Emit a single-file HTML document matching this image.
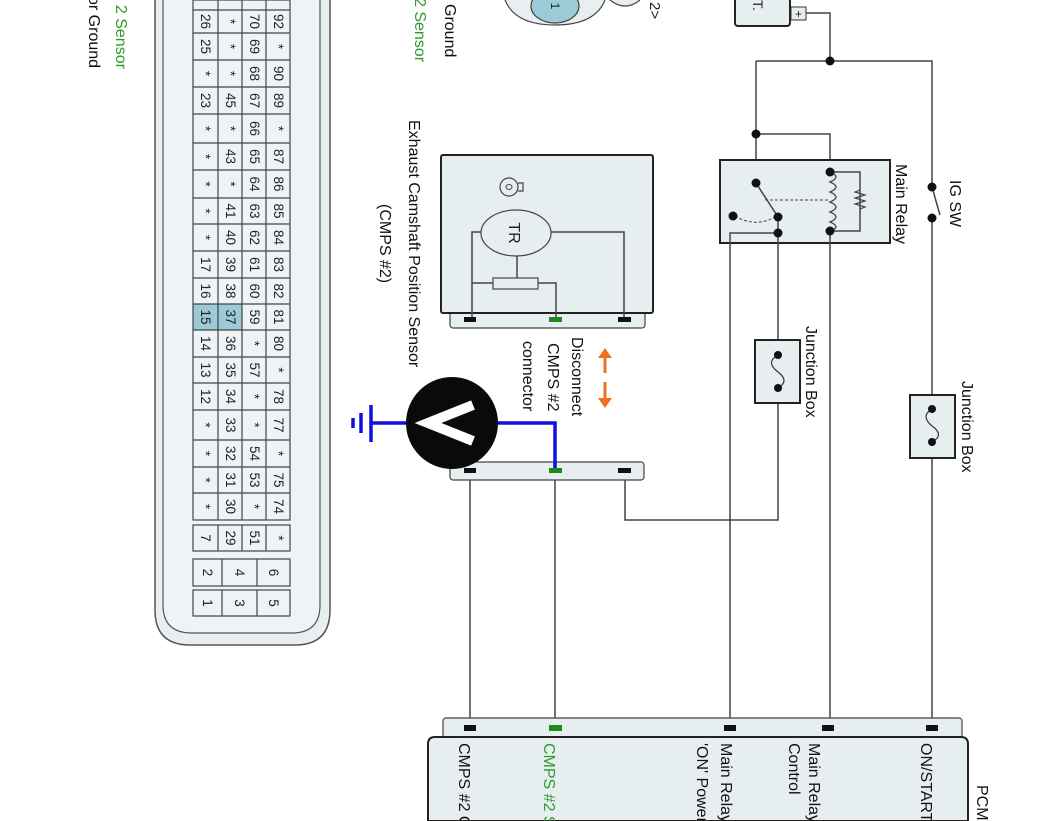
<!DOCTYPE html>
<html><head><meta charset="utf-8"><style>
html,body{margin:0;padding:0;background:#fff;width:1062px;height:821px;overflow:hidden;}
svg{display:block;font-family:"Liberation Sans",sans-serif;overflow:hidden;}
</style></head><body>
<svg width="1062" height="821" viewBox="0 0 1062 821" xmlns="http://www.w3.org/2000/svg">
<defs>
<style>
.w{stroke:#444;stroke-width:1.5;fill:none}
.box{fill:#e6eef0;stroke:#222;stroke-width:2}
.t{font-size:16px;fill:#111}
.g{font-size:16px;fill:#2a9a2a}
</style>
</defs>

<text class="g" transform="translate(116,-4) rotate(90)">. 2 Sensor</text>
<text class="t" transform="translate(89,-4) rotate(90)">or Ground</text>

<path d="M155,0 V610 Q155,645 190,645 H295 Q330,645 330,610 V0" fill="#e8eff1" stroke="#555" stroke-width="1.5"/>
<path d="M163,0 V605 Q163,633 192,633 H292 Q320,633 320,605 V0" fill="#eef3f5" stroke="#555" stroke-width="1.2"/>
<rect x="193" y="304" width="49" height="26" fill="#9ccad6"/>
<g stroke="#444" stroke-width="1.2" fill="none">
<rect x="193" y="0" width="97" height="520"/>
<line x1="218" y1="0" x2="218" y2="520"/><line x1="242" y1="0" x2="242" y2="520"/><line x1="266" y1="0" x2="266" y2="520"/>
<path d="M193,10H290M193,33H290M193,60H290M193,87H290M193,114H290M193,143H290M193,170H290M193,198H290M193,224H290M193,251H290M193,278H290M193,304H290M193,330H290M193,357H290M193,383H290M193,410H290M193,440H290M193,467H290M193,493H290"/>
<rect x="193" y="525" width="97" height="26"/>
<line x1="218" y1="525" x2="218" y2="551"/><line x1="242" y1="525" x2="242" y2="551"/><line x1="266" y1="525" x2="266" y2="551"/>
<rect x="193" y="559" width="97" height="27"/><line x1="222" y1="559" x2="222" y2="586"/><line x1="257" y1="559" x2="257" y2="586"/>
<rect x="193" y="590" width="97" height="26"/><line x1="222" y1="590" x2="222" y2="616"/><line x1="257" y1="590" x2="257" y2="616"/>
</g>
<g font-size="13.5" fill="#222" text-anchor="middle">
<text transform="translate(201,21.5) rotate(90)">26</text><text transform="translate(226,21.5) rotate(90)">*</text><text transform="translate(250,21.5) rotate(90)">70</text><text transform="translate(274,21.5) rotate(90)">92</text>
<text transform="translate(201,46.5) rotate(90)">25</text><text transform="translate(226,46.5) rotate(90)">*</text><text transform="translate(250,46.5) rotate(90)">69</text><text transform="translate(274,46.5) rotate(90)">*</text>
<text transform="translate(201,73.5) rotate(90)">*</text><text transform="translate(226,73.5) rotate(90)">*</text><text transform="translate(250,73.5) rotate(90)">68</text><text transform="translate(274,73.5) rotate(90)">90</text>
<text transform="translate(201,100.5) rotate(90)">23</text><text transform="translate(226,100.5) rotate(90)">45</text><text transform="translate(250,100.5) rotate(90)">67</text><text transform="translate(274,100.5) rotate(90)">89</text>
<text transform="translate(201,128.5) rotate(90)">*</text><text transform="translate(226,128.5) rotate(90)">*</text><text transform="translate(250,128.5) rotate(90)">66</text><text transform="translate(274,128.5) rotate(90)">*</text>
<text transform="translate(201,156.5) rotate(90)">*</text><text transform="translate(226,156.5) rotate(90)">43</text><text transform="translate(250,156.5) rotate(90)">65</text><text transform="translate(274,156.5) rotate(90)">87</text>
<text transform="translate(201,184) rotate(90)">*</text><text transform="translate(226,184) rotate(90)">*</text><text transform="translate(250,184) rotate(90)">64</text><text transform="translate(274,184) rotate(90)">86</text>
<text transform="translate(201,211) rotate(90)">*</text><text transform="translate(226,211) rotate(90)">41</text><text transform="translate(250,211) rotate(90)">63</text><text transform="translate(274,211) rotate(90)">85</text>
<text transform="translate(201,237.5) rotate(90)">*</text><text transform="translate(226,237.5) rotate(90)">40</text><text transform="translate(250,237.5) rotate(90)">62</text><text transform="translate(274,237.5) rotate(90)">84</text>
<text transform="translate(201,264.5) rotate(90)">17</text><text transform="translate(226,264.5) rotate(90)">39</text><text transform="translate(250,264.5) rotate(90)">61</text><text transform="translate(274,264.5) rotate(90)">83</text>
<text transform="translate(201,291) rotate(90)">16</text><text transform="translate(226,291) rotate(90)">38</text><text transform="translate(250,291) rotate(90)">60</text><text transform="translate(274,291) rotate(90)">82</text>
<text transform="translate(201,317) rotate(90)">15</text><text transform="translate(226,317) rotate(90)">37</text><text transform="translate(250,317) rotate(90)">59</text><text transform="translate(274,317) rotate(90)">81</text>
<text transform="translate(201,343.5) rotate(90)">14</text><text transform="translate(226,343.5) rotate(90)">36</text><text transform="translate(250,343.5) rotate(90)">*</text><text transform="translate(274,343.5) rotate(90)">80</text>
<text transform="translate(201,370) rotate(90)">13</text><text transform="translate(226,370) rotate(90)">35</text><text transform="translate(250,370) rotate(90)">57</text><text transform="translate(274,370) rotate(90)">*</text>
<text transform="translate(201,396.5) rotate(90)">12</text><text transform="translate(226,396.5) rotate(90)">34</text><text transform="translate(250,396.5) rotate(90)">*</text><text transform="translate(274,396.5) rotate(90)">78</text>
<text transform="translate(201,425) rotate(90)">*</text><text transform="translate(226,425) rotate(90)">33</text><text transform="translate(250,425) rotate(90)">*</text><text transform="translate(274,425) rotate(90)">77</text>
<text transform="translate(201,453.5) rotate(90)">*</text><text transform="translate(226,453.5) rotate(90)">32</text><text transform="translate(250,453.5) rotate(90)">54</text><text transform="translate(274,453.5) rotate(90)">*</text>
<text transform="translate(201,480) rotate(90)">*</text><text transform="translate(226,480) rotate(90)">31</text><text transform="translate(250,480) rotate(90)">53</text><text transform="translate(274,480) rotate(90)">75</text>
<text transform="translate(201,506.5) rotate(90)">*</text><text transform="translate(226,506.5) rotate(90)">30</text><text transform="translate(250,506.5) rotate(90)">*</text><text transform="translate(274,506.5) rotate(90)">74</text>
<text transform="translate(201,538) rotate(90)">7</text><text transform="translate(226,538) rotate(90)">29</text><text transform="translate(250,538) rotate(90)">51</text><text transform="translate(274,538) rotate(90)">*</text>
<text transform="translate(203,572.5) rotate(90)">2</text><text transform="translate(235,572.5) rotate(90)">4</text><text transform="translate(269,572.5) rotate(90)">6</text>
<text transform="translate(203,603) rotate(90)">1</text><text transform="translate(235,603) rotate(90)">3</text><text transform="translate(269,603) rotate(90)">5</text>
</g>

<text class="t" transform="translate(445,4) rotate(90)">Ground</text>
<text class="g" transform="translate(415,-2) rotate(90)">2 Sensor</text>
<path d="M505,0 Q515,25 555,25 Q595,25 605,0" fill="#e8eff1" stroke="#444" stroke-width="1.2"/>
<ellipse cx="555" cy="6" rx="24" ry="17" fill="#9ccad6" stroke="#444" stroke-width="1.2"/>
<text transform="translate(551,6) rotate(90)" font-size="12" text-anchor="middle" fill="#222">1</text>
<path d="M610,0 Q625,12 640,0" fill="#e8eff1" stroke="#444" stroke-width="1.2"/>
<text transform="translate(650,2) rotate(90)" font-size="15" fill="#222">2&gt;</text>

<rect x="735" y="-6" width="55" height="32" rx="3" class="box" stroke-width="1.5"/>
<text transform="translate(753,0) rotate(90)" font-size="14" fill="#222">T.</text>
<rect x="791" y="7" width="15" height="13" fill="#e6eef0" stroke="#333" stroke-width="1"/>
<text x="798.5" y="18" font-size="12" text-anchor="middle" fill="#222">+</text>

<path class="w" d="M806,13 H830 V61 M756,61 H932 V187 M756,61 V183 M756,134 H830 V172"/>
<circle cx="830" cy="61" r="4.5" fill="#111"/>
<circle cx="756" cy="134" r="4.5" fill="#111"/>

<rect x="720" y="160" width="170" height="83" class="box"/>
<text class="t" transform="translate(896,164) rotate(90)">Main Relay</text>
<path class="w" d="M756,183 L778,217"/>
<path d="M765,200 H830" stroke="#444" stroke-width="1" stroke-dasharray="3,2" fill="none"/>
<path d="M735,216 Q755,228 775,217" stroke="#444" stroke-width="1" stroke-dasharray="3,2" fill="none"/>
<path class="w" d="M830,172 H860 V231 H830"/>
<path d="M830,172 q12,5 0,10 q12,5 0,10 q12,5 0,10 q12,5 0,10 q12,5 0,10 q12,5 0,9" stroke="#444" stroke-width="1.3" fill="none"/>
<path d="M860,190 l-5,2 l10,3 l-10,3 l10,3 l-10,3 l10,3 l-5,2" stroke="#444" stroke-width="1.2" fill="none"/>
<path class="w" d="M778,233 H730 V728 M778,217 V233 V520 H625 V474 M830,231 V728"/>
<circle cx="756" cy="183" r="4.5" fill="#111"/>
<circle cx="778" cy="217" r="4.5" fill="#111"/>
<circle cx="733" cy="216" r="4.5" fill="#111"/>
<circle cx="778" cy="233" r="4.5" fill="#111"/>
<circle cx="830" cy="172" r="4.5" fill="#111"/>
<circle cx="830" cy="231" r="4.5" fill="#111"/>

<path class="w" d="M932,187 L940,215 M932,218 V728"/>
<circle cx="932" cy="187" r="4.5" fill="#111"/>
<circle cx="932" cy="218" r="4.5" fill="#111"/>
<text class="t" transform="translate(950,180) rotate(90)">IG SW</text>

<rect x="755" y="340" width="45" height="63" class="box"/>
<path d="M778,355 Q765,362 778,372 Q790,381 778,388" stroke="#333" stroke-width="1.2" fill="none"/>
<circle cx="778" cy="355" r="4" fill="#111"/><circle cx="778" cy="388" r="4" fill="#111"/>
<text class="t" transform="translate(806,326) rotate(90)">Junction Box</text>
<rect x="910" y="395" width="45" height="63" class="box"/>
<path d="M932,409 Q920,416 932,426 Q945,435 932,442" stroke="#333" stroke-width="1.2" fill="none"/>
<circle cx="932" cy="409" r="4" fill="#111"/><circle cx="932" cy="442" r="4" fill="#111"/>
<text class="t" transform="translate(962,381) rotate(90)">Junction Box</text>

<text class="t" transform="translate(409,120) rotate(90)">Exhaust Camshaft Position Sensor</text>
<text class="t" transform="translate(380,204) rotate(90)">(CMPS #2)</text>
<rect x="450" y="310" width="195" height="18" rx="3" fill="#e6eef0" stroke="#444" stroke-width="1.2"/>
<rect x="441" y="155" width="212" height="158" rx="2" class="box"/>
<path class="w" d="M482,232 H472 V320 M550,232 H624 V320 M517,256 V278 M472,283 H493 M538,283 H556 V320" stroke-width="1.2"/>
<ellipse cx="516" cy="233" rx="35" ry="23" fill="#e6eef0" stroke="#444" stroke-width="1.2"/>
<text transform="translate(509,233) rotate(90)" font-size="16" text-anchor="middle" fill="#222">TR</text>
<rect x="493" y="278" width="45" height="11" fill="#e6eef0" stroke="#444" stroke-width="1.2"/>
<circle cx="509" cy="187" r="9" fill="none" stroke="#444" stroke-width="1.2"/>
<ellipse cx="509" cy="187" rx="3" ry="2.5" fill="none" stroke="#444" stroke-width="1"/>
<path d="M518,183 h5 v8 h-5" fill="none" stroke="#444" stroke-width="1.2"/>
<rect x="464" y="317" width="12" height="5" fill="#111"/>
<rect x="549" y="317" width="13" height="5" fill="#1e8a1e"/>
<rect x="618" y="317" width="13" height="5" fill="#111"/>

<g stroke="#f07020" stroke-width="3" fill="#f07020">
<line x1="605" y1="356" x2="605" y2="373"/><line x1="605" y1="382" x2="605" y2="400"/>
<path d="M598,358 L605,348 L612,358Z" stroke="none"/><path d="M598,398 L605,408 L612,398Z" stroke="none"/>
</g>
<text class="t" transform="translate(572,337) rotate(90)">Disconnect</text>
<text class="t" transform="translate(548,343) rotate(90)">CMPS #2</text>
<text class="t" transform="translate(523,341) rotate(90)">connector</text>

<rect x="450" y="462" width="194" height="18" rx="3" fill="#e6eef0" stroke="#444" stroke-width="1.2"/>
<path class="w" d="M470,480 V728 M555,480 V728"/>
<path d="M555,470 V423 H495 M408,423 H372" stroke="#1010dd" stroke-width="3.5" fill="none"/>
<path d="M371,405 V442 M361,413 V433 M353,418 V428" stroke="#1010dd" stroke-width="3.5"/>
<circle cx="452" cy="423" r="46" fill="#0a0a0a"/>
<path d="M473,405 L428,423 L473,441" stroke="#fff" stroke-width="10" fill="none" stroke-linejoin="miter"/>
<rect x="464" y="468" width="12" height="5" fill="#111"/>
<rect x="549" y="468" width="13" height="5" fill="#1e8a1e"/>
<rect x="618" y="468" width="13" height="5" fill="#111"/>

<rect x="443" y="718" width="519" height="26" rx="3" fill="#e6eef0" stroke="#444" stroke-width="1.2"/>
<path d="M428,821 V744 Q428,737 435,737 H961 Q968,737 968,744 V821 Z" class="box"/>
<rect x="464" y="725" width="12" height="6" fill="#111"/>
<rect x="549" y="725" width="13" height="6" fill="#1e8a1e"/>
<rect x="724" y="725" width="12" height="6" fill="#111"/>
<rect x="822" y="725" width="12" height="6" fill="#111"/>
<rect x="926" y="725" width="12" height="6" fill="#111"/>
<text class="t" transform="translate(459,743) rotate(90)">CMPS #2 G</text>
<text class="g" transform="translate(544,743) rotate(90)">CMPS #2 S</text>
<text class="t" transform="translate(721,743) rotate(90)">Main Relay</text>
<text class="t" transform="translate(697,743) rotate(90)">'ON' Power</text>
<text class="t" transform="translate(809,743) rotate(90)">Main Relay</text>
<text class="t" transform="translate(789,743) rotate(90)">Control</text>
<text class="t" transform="translate(921,743) rotate(90)">ON/START</text>
<text class="t" transform="translate(977,785) rotate(90)">PCM</text>
</svg>
</body></html>
